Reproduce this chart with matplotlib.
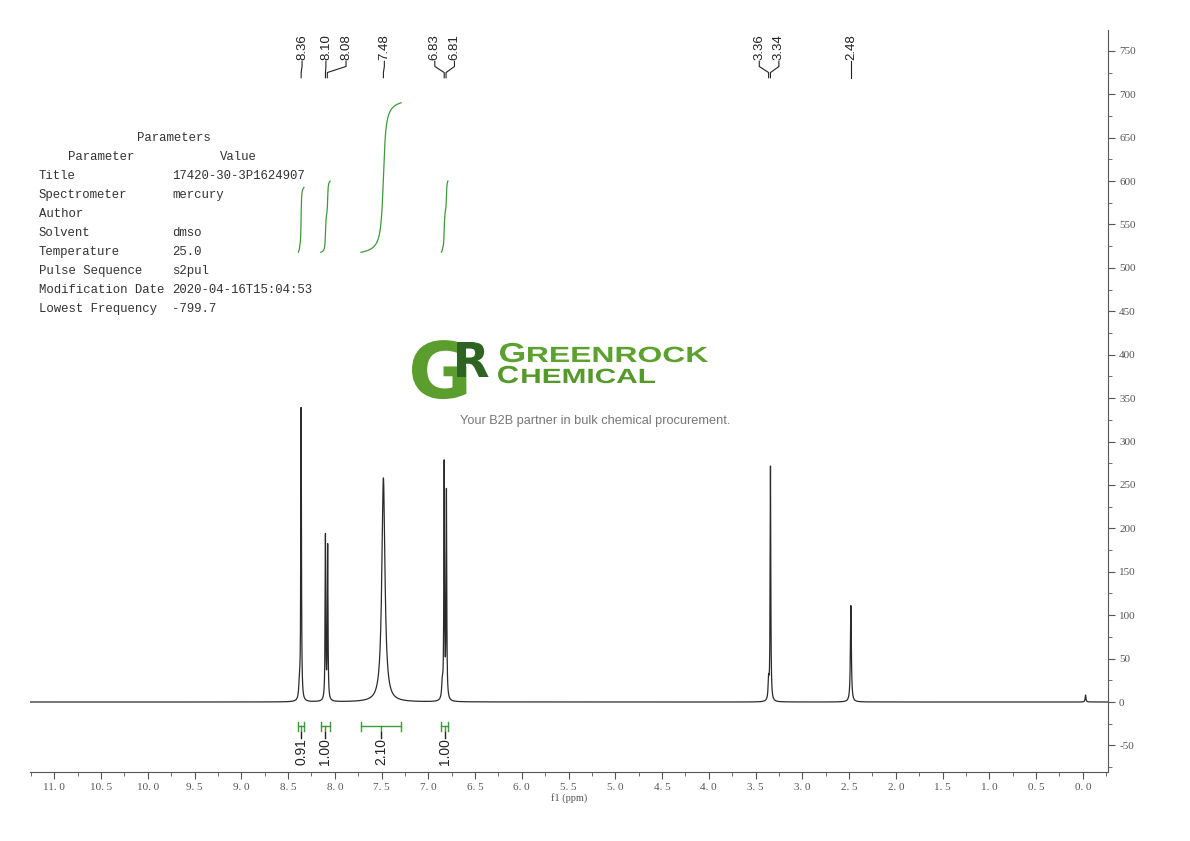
#1H NMR spectrum (dmso) redrawn with matplotlib
import numpy as np
import matplotlib
matplotlib.use('Agg')
import matplotlib.pyplot as plt
from matplotlib.ticker import MultipleLocator, FixedLocator
from matplotlib.textpath import TextPath
from matplotlib.patches import PathPatch
from matplotlib.font_manager import FontProperties
from matplotlib.transforms import Affine2D

plt.rcParams['axes.unicode_minus'] = False

#peaks: position (ppm), height, line width (ppm)
peak_ppm = [8.378, 8.36, 8.10, 8.076, 7.48, 6.85, 6.83, 6.806, 3.36, 3.34, 2.48, -0.03]
peak_height = [20, 336, 189, 177, 258, 18, 270, 238, 22, 270, 111, 8]
peak_width = [0.015, 0.008, 0.008, 0.008, 0.04, 0.015, 0.008, 0.008, 0.012, 0.008, 0.012, 0.01]

#peak picking labels at the top
label_text = ['8.36', '8.10', '8.08', '7.48', '6.83', '6.81', '3.36', '3.34', '2.48']
label_peak = [8.36, 8.10, 8.08, 7.48, 6.83, 6.81, 3.36, 3.34, 2.48]
label_pos = [8.35, 8.095, 7.88, 7.47, 6.93, 6.72, 3.46, 3.25, 2.48]

#integrals
int_value = [0.91, 1.00, 2.10, 1.00]
int_from = [8.39, 8.15, 7.72, 6.86]
int_to = [8.33, 8.05, 7.29, 6.79]

#parameter table
param_names = ['Title', 'Spectrometer', 'Author', 'Solvent', 'Temperature',
               'Pulse Sequence', 'Modification Date', 'Lowest Frequency']
param_values = ['17420-30-3P1624907', 'mercury', '', 'dmso', '25.0',
                's2pul', '2020-04-16T15:04:53', '-799.7']

W, H = 1190, 841
fig = plt.figure(figsize=(W / 100, H / 100), dpi=100)
ax = fig.add_axes([30 / W, 1 - 772 / H, (1108 - 30) / W, (772 - 30) / H])
ax.set_xlim(11.26, -0.27)
ax.set_ylim(-80.6, 774)

#spectrum as a sum of lorentzian lines
x = np.arange(-0.27, 11.26, 0.0005)
y = np.zeros_like(x)
for p, h, w in zip(peak_ppm, peak_height, peak_width):
    y += h / (1 + ((x - p) / (w / 2)) ** 2)
ax.plot(x, y, color='#2b2b2b', lw=0.9)

#integral curves and brackets
green = '#3c9a3c'
for v, a, b in zip(int_value, int_from, int_to):
    m = (x <= a) & (x >= b)
    xs = x[m][::-1]
    ys = y[m][::-1]
    c = np.cumsum(ys)
    c = c / c[-1]
    ax.plot(xs, 518 + c * v * 82, color=green, lw=0.9)
    ax.plot([a, b], [-28, -28], color=green, lw=1)
    ax.plot([a, a], [-33, -23], color=green, lw=1)
    ax.plot([b, b], [-33, -23], color=green, lw=1)
    mid = (a + b) / 2
    ax.plot([mid, mid], [-28, -33], color=green, lw=1)
    ax.plot([mid, mid], [-34, -41], color='#222222', lw=1)
    ax.text(mid, -42, '%.2f' % v, rotation=90, ha='center', va='top',
            fontsize=10, family='Liberation Sans', color='#222222')

#peak labels with connector lines
for t, p, lp in zip(label_text, label_peak, label_pos):
    ax.text(lp, 740, t, rotation=90, ha='center', va='bottom',
            fontsize=9.5, family='Liberation Sans', color='#222222')
    ax.plot([lp, lp, p, p], [738, 732, 725, 719], color='#222222', lw=0.8)

#axes style
for s in ['top', 'left']:
    ax.spines[s].set_visible(False)
ax.spines['bottom'].set_color('#555555')
ax.spines['right'].set_color('#555555')
ax.yaxis.tick_right()
ax.yaxis.set_major_locator(MultipleLocator(50))
ax.yaxis.set_minor_locator(MultipleLocator(25))
ax.set_yticks(np.arange(-50, 751, 50))
ax.set_yticklabels([str(v) for v in range(-50, 751, 50)])

xt = np.arange(0, 11.01, 0.5)
ax.xaxis.set_major_locator(FixedLocator(xt))
ax.xaxis.set_minor_locator(MultipleLocator(0.25))
ax.set_xticklabels([('%.1f' % v).replace('.', '. ') for v in xt])
ax.tick_params(axis='both', which='major', length=5, color='#555555',
               labelsize=8, labelcolor='#555555', direction='out', pad=3)
ax.tick_params(axis='both', which='minor', length=3, color='#555555', direction='out')
for lab in ax.get_xticklabels() + ax.get_yticklabels():
    lab.set_family('Liberation Serif')
ax.set_xlabel('f1 (ppm)', family='Liberation Serif', fontsize=7.5, color='#555555', labelpad=1)

#parameter table in the upper left
mono = dict(family='Liberation Mono', fontsize=8.9, color='#333333', va='center')
fig.text(174 / W, 1 - 138 / H, 'Parameters', ha='center', **mono)
fig.text(101 / W, 1 - 157 / H, 'Parameter', ha='center', **mono)
fig.text(238 / W, 1 - 157 / H, 'Value', ha='center', **mono)
for i in range(len(param_names)):
    yy = 1 - (176 + 19 * i) / H
    fig.text(39 / W, yy, param_names[i], ha='left', **mono)
    fig.text(172 / W, yy, param_values[i], ha='left', **mono)

#watermark logo, drawn from text outlines in pixel coordinates
def logo_text(s, px, base, em, sx, color, width=None, family='DejaVu Sans'):
    path = TextPath((0, 0), s, size=em, prop=FontProperties(family=family, weight='bold'))
    ext = path.get_extents()
    if width is not None:
        sx = width / ext.width
    tr = Affine2D().translate(-ext.x0, 0).scale(sx, 1).translate(px, H - base)
    fig.add_artist(PathPatch(path, transform=tr, facecolor=color, edgecolor='none'))
    return px + ext.width * sx

logo_text('G', 412, 398, 78, 1.0, '#5b9e2e')
logo_text('R', 457, 377, 48, 1.0, '#2f6322')
e = logo_text('G', 500, 362, 27.4, 1.3, '#5ca12e', family='Liberation Sans')
logo_text('REENROCK', e + 4, 362, 22, 1.0, '#5ca12e', width=708 - e - 4, family='Liberation Sans')
e = logo_text('C', 498, 383, 24.7, 1.25, '#56992b', family='Liberation Sans')
logo_text('HEMICAL', e + 4, 383, 20.6, 1.0, '#56992b', width=655 - e - 4, family='Liberation Sans')
fig.text(595 / W, 1 - 421 / H, 'Your B2B partner in bulk chemical procurement.',
         ha='center', va='center', fontsize=9.2, family='Liberation Sans', color='#777777')

fig.savefig('out.png', dpi=100)
